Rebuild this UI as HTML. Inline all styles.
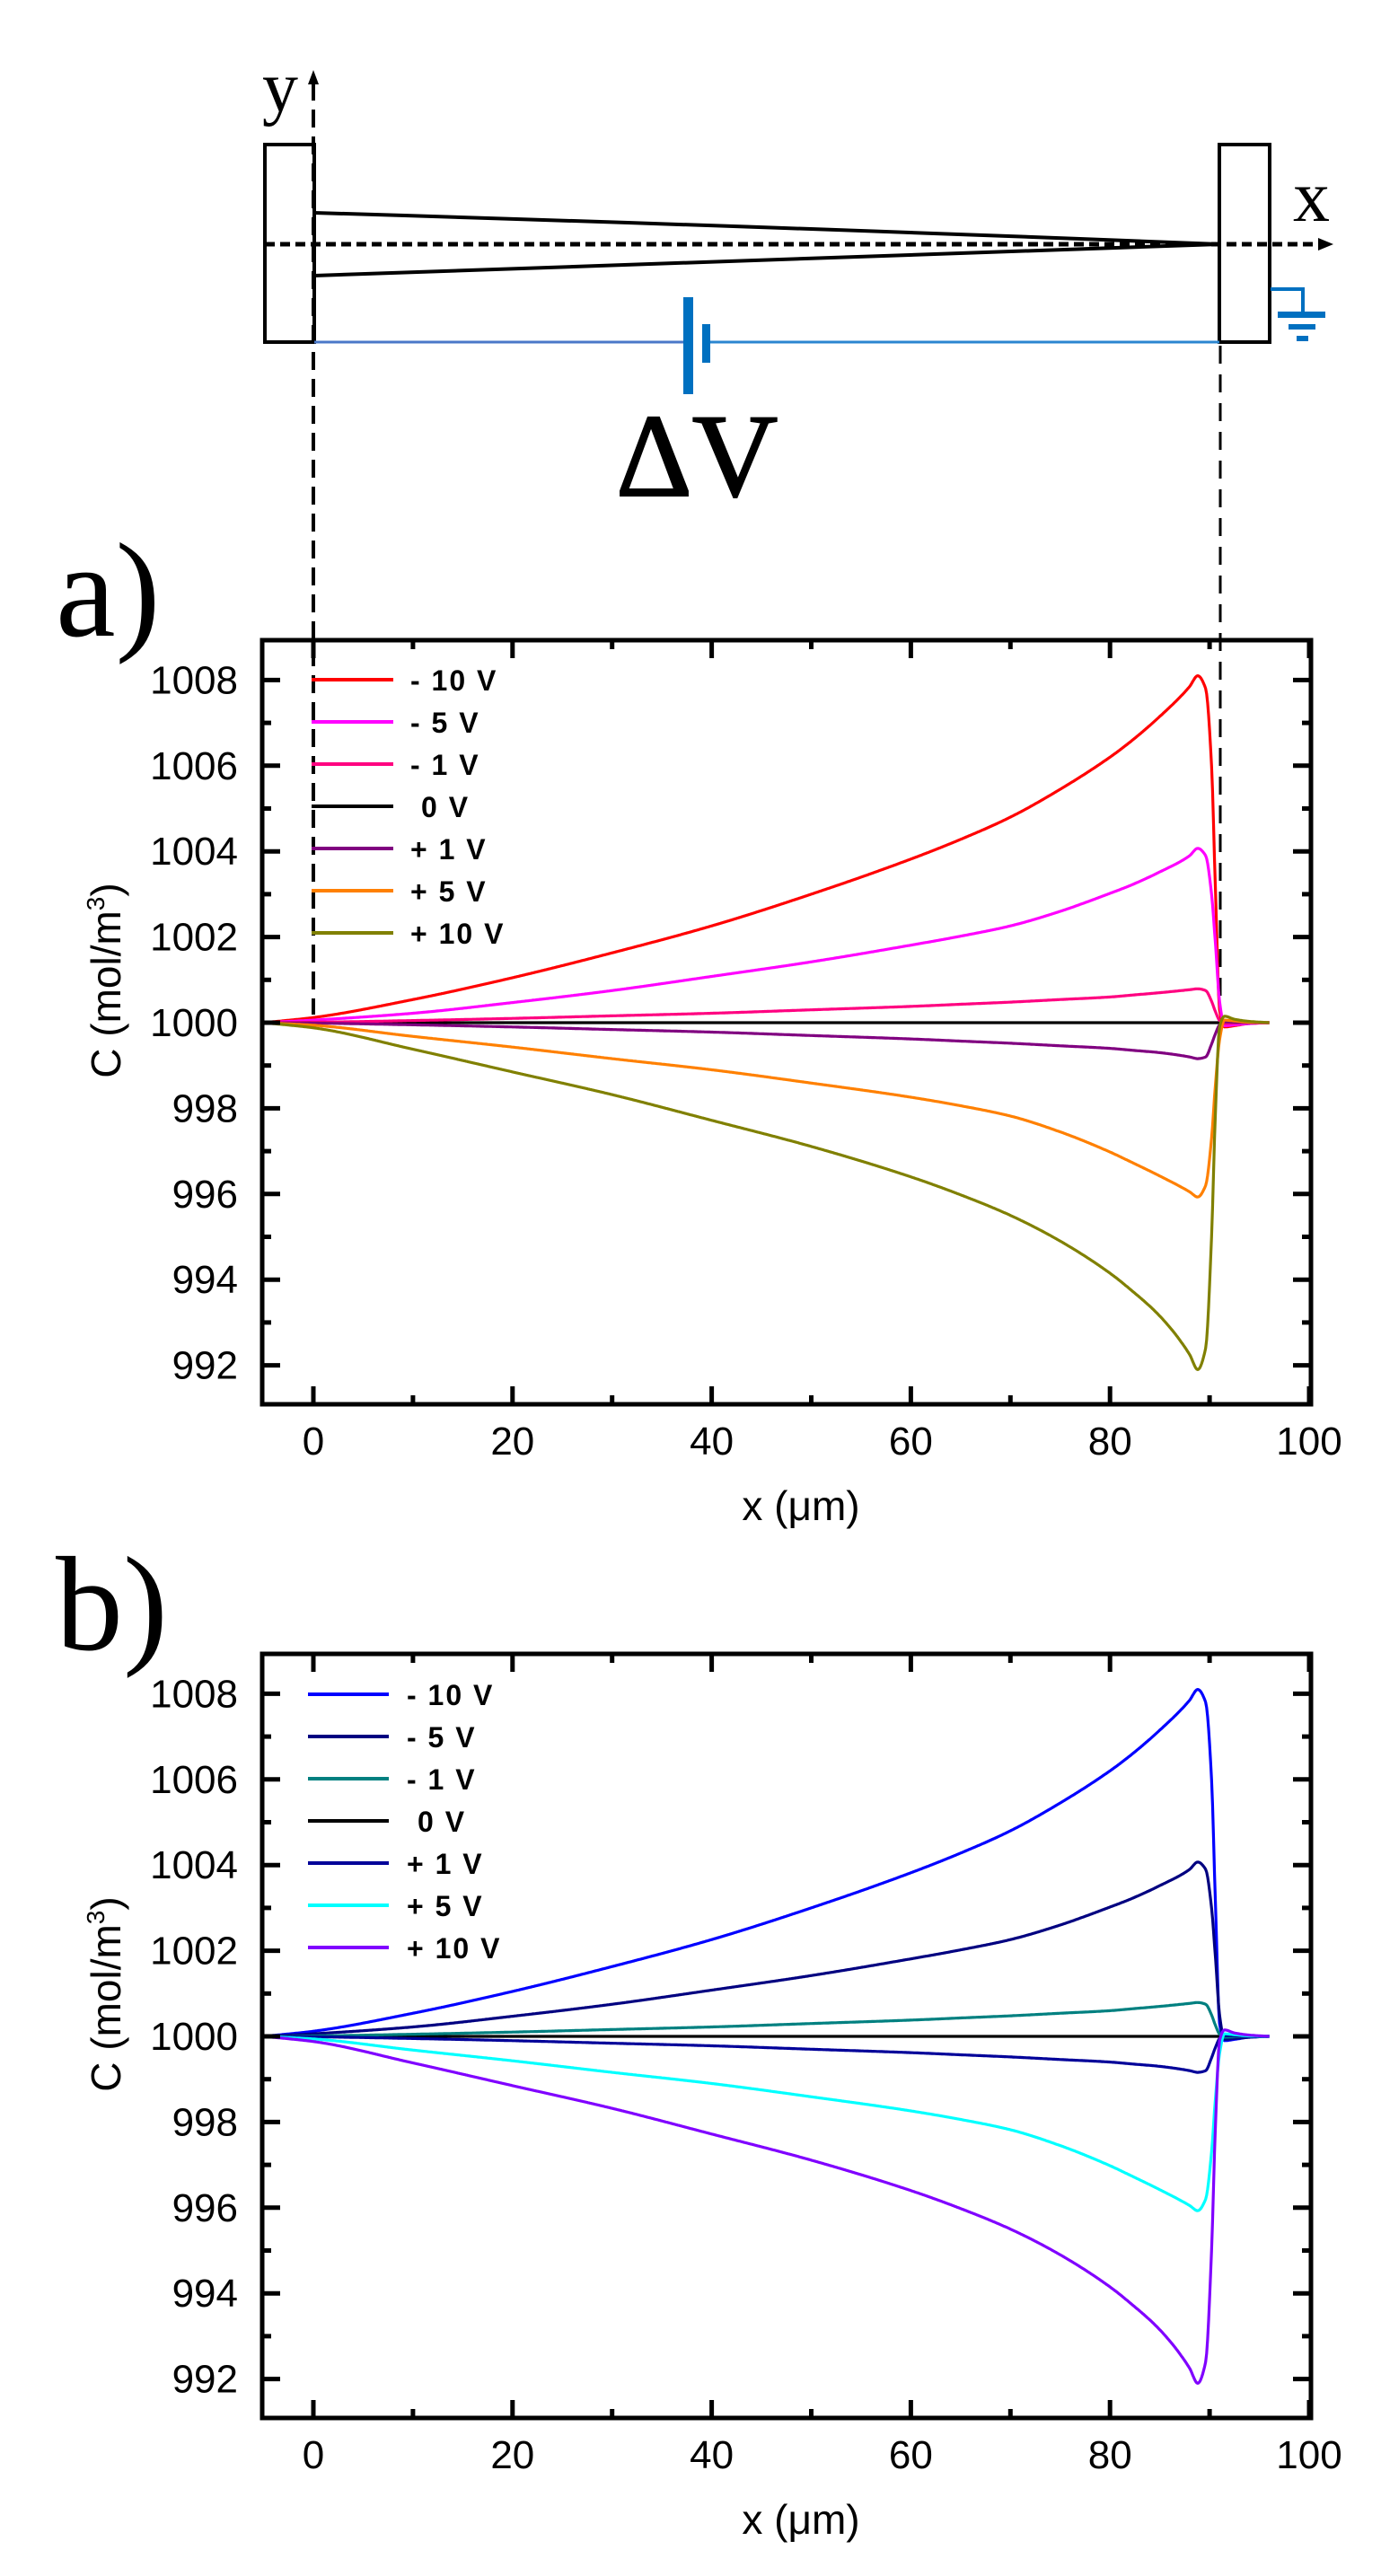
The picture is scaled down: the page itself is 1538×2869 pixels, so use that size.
<!DOCTYPE html>
<html><head><meta charset="utf-8"><title>Concentration profiles</title>
<style>
html,body{margin:0;padding:0;background:#fff;}
svg{display:block;}
.tick{font-family:"Liberation Sans",Arial,sans-serif;font-size:44px;fill:#000;}
.leg{font-family:"Liberation Sans",Arial,sans-serif;font-size:32px;font-weight:bold;fill:#000;letter-spacing:2px;}
.ttl{font-family:"Liberation Sans",Arial,sans-serif;font-size:46px;fill:#000;}
.serif{font-family:"Liberation Serif","Times New Roman",serif;fill:#000;}
</style></head>
<body>
<svg id="fig" width="1538" height="2869" viewBox="0 0 1538 2869" xmlns="http://www.w3.org/2000/svg">
  <rect x="0" y="0" width="1538" height="2869" fill="#fff"/>
  <g id="schematic">
    <rect x="295" y="161" width="55" height="220" fill="none" stroke="#000" stroke-width="4"/>
    <rect x="1358" y="161" width="56" height="220" fill="none" stroke="#000" stroke-width="4"/>
    <path d="M350,237 Q850,252 1358,272" fill="none" stroke="#000" stroke-width="4"/>
    <path d="M350,307 Q850,290 1358,272" fill="none" stroke="#000" stroke-width="4"/>
    <line x1="295" y1="272" x2="1470" y2="272" stroke="#000" stroke-width="5" stroke-dasharray="11,6"/>
    <polygon points="1468,265 1485,272 1468,279" fill="#000"/>
    <line x1="349" y1="92" x2="349" y2="1130" stroke="#000" stroke-width="4" stroke-dasharray="20,10"/>
    <polygon points="343,94 349,78 355,94" fill="#000"/>
    <line x1="1359" y1="385" x2="1359" y2="1130" stroke="#000" stroke-width="3" stroke-dasharray="20,12"/>
    <text class="serif" x="292" y="124" font-size="80">y</text>
    <text class="serif" x="1440" y="246" font-size="82">x</text>
    <line x1="350" y1="381" x2="766" y2="381" stroke="#4a78c8" stroke-width="3"/>
    <line x1="790" y1="381" x2="1358" y2="381" stroke="#2b86d0" stroke-width="3"/>
    <rect x="761" y="331" width="11" height="108" fill="#0070c0"/>
    <rect x="782" y="361" width="9" height="43" fill="#0070c0"/>
    <text class="serif" x="686" y="552" font-size="132" stroke="#000" stroke-width="2">ΔV</text>
    <polyline points="1415,322 1451,322 1451,350" fill="none" stroke="#0070c0" stroke-width="4"/>
    <rect x="1423" y="347" width="53" height="7" fill="#0070c0"/>
    <rect x="1435" y="361" width="30" height="6" fill="#0070c0"/>
    <rect x="1444" y="374" width="13" height="6" fill="#0070c0"/>
  </g>
  <text class="serif" x="62" y="708" font-size="150">a)</text>
  <text class="serif" x="62" y="1837" font-size="150">b)</text>
  <g id="plotA"></g>
  <g id="plotB"></g>
</svg>
<script>
// ---- data ----
const xPositions = [-5,0,10,20,30,40,50,60,65,70,75,80,82,85,88,88.8,89.6,90.2,90.6,91,91.5,92.5,94,96];
const seriesLabels = ["- 10 V","- 5 V","- 1 V","0 V","+ 1 V","+ 5 V","+ 10 V"];
const valsM10 = [1000,1000.12,1000.54,1001.05,1001.63,1002.26,1003.0,1003.82,1004.28,1004.8,1005.45,1006.2,1006.55,1007.15,1007.85,1008.1,1007.8,1006.0,1003.0,1000.3,999.9,999.93,999.98,1000];
const valsM5 = [1000,1000.06,1000.22,1000.47,1000.75,1001.08,1001.42,1001.81,1002.02,1002.26,1002.6,1003.02,1003.2,1003.52,1003.9,1004.07,1003.9,1003.0,1001.8,1000.5,999.93,999.95,999.98,1000];
const valsM1 = [1000,1000.01,1000.05,1000.1,1000.16,1000.22,1000.3,1000.38,1000.43,1000.48,1000.54,1000.6,1000.64,1000.7,1000.77,1000.79,1000.75,1000.5,1000.25,1000.05,999.98,999.99,1000,1000];
const vals0 = [1000,1000,1000,1000,1000,1000,1000,1000,1000,1000,1000,1000,1000,1000,1000,1000,1000,1000,1000,1000,1000,1000,1000,1000];
const valsP1 = [1000,999.99,999.95,999.9,999.84,999.78,999.7,999.62,999.57,999.52,999.46,999.4,999.36,999.3,999.2,999.16,999.2,999.5,999.75,999.95,1000.02,1000.01,1000,1000];
const valsP5 = [1000,999.94,999.68,999.43,999.16,998.9,998.59,998.26,998.06,997.82,997.45,996.98,996.76,996.42,996.05,995.93,996.2,997.3,998.6,999.6,1000.06,1000.04,1000.01,1000];
const valsP10 = [1000,999.88,999.38,998.85,998.32,997.72,997.11,996.4,995.98,995.5,994.9,994.15,993.78,993.15,992.25,991.9,992.4,995.0,998.0,999.9,1000.15,1000.08,1000.03,1000];
const xTickLabels = [0,20,40,60,80,100];
const yTickLabels = [992,994,996,998,1000,1002,1004,1006,1008];
const colorsA = ["#ff0000","#ff00ff","#ff0080","#000000","#800080","#ff8000","#808000"];
const colorsB = ["#0000ff","#000080","#008080","#000000","#000099","#00ffff","#8000ff"];
const allSeries = [valsM10,valsM5,valsM1,vals0,valsP1,valsP5,valsP10];

const NS = "http://www.w3.org/2000/svg";
function mk(tag, attrs, parent){
  const e = document.createElementNS(NS, tag);
  for (const k in attrs) e.setAttribute(k, attrs[k]);
  parent.appendChild(e);
  return e;
}
function monotone(xs, ys){
  const n = xs.length, d = [], m = new Array(n);
  for (let i=0;i<n-1;i++) d.push((ys[i+1]-ys[i])/(xs[i+1]-xs[i]));
  m[0]=d[0]; m[n-1]=d[n-2];
  for (let i=1;i<n-1;i++){
    if (d[i-1]*d[i] <= 0) m[i]=0;
    else { const h0=xs[i]-xs[i-1], h1=xs[i+1]-xs[i], w1=2*h1+h0, w2=h1+2*h0; m[i]=(w1+w2)/(w1/d[i-1]+w2/d[i]); }
  }
  return function(x){
    let i=0; while(i<n-2 && x>xs[i+1]) i++;
    const h=xs[i+1]-xs[i], t=(x-xs[i])/h, t2=t*t, t3=t2*t;
    return (2*t3-3*t2+1)*ys[i]+(t3-2*t2+t)*h*m[i]+(-2*t3+3*t2)*ys[i+1]+(t3-t2)*h*m[i+1];
  };
}
function buildPlot(g, dy, colors, tag){
  const L=292, R=1460, T=713+dy, B=1564+dy;
  const sx = v => 349 + v*11.09;
  const sy = v => 1139 + dy - (v-1000)*47.7;
  const clipId = "clip"+tag;
  const defs = mk("defs", {}, g);
  const cp = mk("clipPath", {id:clipId}, defs);
  mk("rect", {x:L, y:T, width:R-L, height:B-T}, cp);
  const order = [3,0,1,2,4,5,6];
  order.forEach(i => {
    const f = monotone(xPositions, allSeries[i]);
    const x0 = xPositions[0], x1 = xPositions[xPositions.length-1];
    let d = "";
    for (let x=x0; x<=x1+1e-9; x+=0.1){
      d += (d?" L":"M")+sx(x).toFixed(1)+","+sy(f(x)).toFixed(1);
    }
    const p = mk("path", {d:d, fill:"none", stroke:colors[i], "stroke-width":3.2, "stroke-linejoin":"round", "clip-path":"url(#"+clipId+")"}, g);
    
    
  });
  const fr = mk("rect", {x:L, y:T, width:R-L, height:B-T, fill:"none", stroke:"#000", "stroke-width":5}, g);
  
  
  for (let v=0; v<=100; v+=10){
    const major = v%20===0, len = major?20:10, x=sx(v);
    const t1 = mk("line", {x1:x, y1:B, x2:x, y2:B-len, stroke:"#000", "stroke-width":5}, g);
    
    
    const t2 = mk("line", {x1:x, y1:T, x2:x, y2:T+len, stroke:"#000", "stroke-width":5}, g);
    
    
  }
  xTickLabels.forEach(v => {
    const t = mk("text", {x:sx(v), y:B+56, "text-anchor":"middle", class:"tick"}, g);
    t.textContent = v;
    
    
  });
  for (let v=992; v<=1008; v+=1){
    const major = v%2===0, len = major?20:10, y=sy(v);
    const t1 = mk("line", {x1:L, y1:y, x2:L+len, y2:y, stroke:"#000", "stroke-width":5}, g);
    
    
    const t2 = mk("line", {x1:R, y1:y, x2:R-len, y2:y, stroke:"#000", "stroke-width":5}, g);
    
    
  }
  yTickLabels.forEach(v => {
    const t = mk("text", {x:265, y:sy(v)+15, "text-anchor":"end", class:"tick"}, g);
    t.textContent = v;
    
    
  });
  const yt = mk("text", {x:0, y:0, class:"ttl", "text-anchor":"middle", transform:"translate(134,"+(1092+dy)+") rotate(-90)"}, g);
  
  
  yt.appendChild(document.createTextNode("C (mol/m"));
  const sup = mk("tspan", {"font-size":"28", dy:"-18"}, yt);
  sup.textContent = "3";
  const cl = mk("tspan", {dy:"18"}, yt);
  cl.textContent = ")";
  const xt = mk("text", {x:892, y:1693+dy, class:"ttl", "text-anchor":"middle"}, g);
  xt.textContent = "x (μm)";
  
  
  const legX1 = tag==="A"?347:343, legX2 = tag==="A"?438:433, textX = tag==="A"?457:453;
  const legY0 = tag==="A"?757:757+1130;
  seriesLabels.forEach((lab,i) => {
    const y = legY0 + i*47;
    const ln = mk("line", {x1:legX1, y1:y, x2:legX2, y2:y, stroke:colors[i], "stroke-width":4}, g);
    
    
    const tx = mk("text", {x:textX + (i===3?12:0), y:y+12, class:"leg"}, g);
    tx.textContent = lab;
    
    
  });
}
buildPlot(document.getElementById("plotA"), 0, colorsA, "A");
buildPlot(document.getElementById("plotB"), 1129, colorsB, "B");
</script>
</body></html>
